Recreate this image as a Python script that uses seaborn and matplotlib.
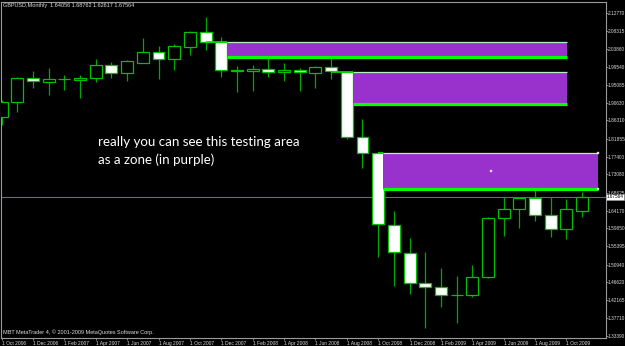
import numpy as np
import pandas as pd
import matplotlib
matplotlib.use("Agg")
import matplotlib.pyplot as plt
import seaborn as sns

# ---------------- data ----------------
months = ["Oct 2006", "Nov 2006", "Dec 2006", "Jan 2007", "Feb 2007", "Mar 2007",
          "Apr 2007", "May 2007", "Jun 2007", "Jul 2007", "Aug 2007", "Sep 2007",
          "Oct 2007", "Nov 2007", "Dec 2007", "Jan 2008", "Feb 2008", "Mar 2008",
          "Apr 2008", "May 2008", "Jun 2008", "Jul 2008", "Aug 2008", "Sep 2008",
          "Oct 2008", "Nov 2008", "Dec 2008", "Jan 2009", "Feb 2009", "Mar 2009",
          "Apr 2009", "May 2009", "Jun 2009", "Jul 2009", "Aug 2009", "Sep 2009",
          "Oct 2009", "Nov 2009"]
opens = [1.8724, 1.9077, 1.9666, 1.9568, 1.9640, 1.9625, 1.9681, 1.9993, 1.9789, 2.0049,
         2.0305, 2.0148, 2.0442, 2.0796, 2.0550, 1.9838, 1.9853, 1.9887, 1.9828, 1.9870,
         1.9789, 1.9937, 1.9828, 1.8218, 1.7825, 1.6065, 1.5370, 1.4633, 1.4550, 1.4335,
         1.4339, 1.4781, 1.6229, 1.6450, 1.6720, 1.6303, 1.5959, 1.64056]
highs = [1.9134, 1.9706, 1.9853, 1.9912, 1.9747, 1.9747, 2.0140, 2.0074, 2.0116, 2.0663,
         2.0459, 2.0501, 2.0828, 2.1179, 2.0673, 1.9968, 1.9993, 2.0403, 2.0049, 1.9912,
         1.9968, 2.0182, 1.9845, 1.8675, 1.7864, 1.6408, 1.5738, 1.5394, 1.5009, 1.4813,
         1.5083, 1.6254, 1.6759, 1.6759, 1.7047, 1.6759, 1.6696, 1.68762]
lows = [1.8520, 1.8832, 1.9421, 1.9256, 1.9379, 1.9175, 1.9583, 1.9666, 1.9608, 2.0035,
        1.9642, 1.9870, 2.0238, 2.0354, 1.9706, 1.9337, 1.9362, 1.9706, 1.9600, 1.9362,
        1.9421, 1.9642, 1.8176, 1.7457, 1.5272, 1.4574, 1.4371, 1.3528, 1.4059, 1.3666,
        1.4290, 1.4771, 1.5802, 1.5998, 1.6170, 1.5777, 1.5721, 1.62617]
closes = [1.9077, 1.9666, 1.9608, 1.9649, 1.9645, 1.9681, 1.9993, 1.9797, 2.0084, 2.0305,
          2.0148, 2.0459, 2.0796, 2.0565, 1.9870, 1.9863, 1.9887, 1.9828, 1.9870, 1.9828,
          1.9937, 1.9838, 1.8218, 1.7840, 1.6082, 1.5394, 1.4633, 1.4535, 1.4339, 1.4340,
          1.4795, 1.6229, 1.6457, 1.6720, 1.6303, 1.5959, 1.6457, 1.67564]

# purple zones (bar-index start/end, top price, bottom price) and origin candle
zone_anchor = [13, 21, 24]
zone_start = [14.37, 22.38, 24.33]
zone_end = [36.02, 36.02, 37.99]
zone_top = [2.0570, 1.9833, 1.7840]
zone_bottom = [2.0197, 1.9028, 1.6949]

price_ticks = [2.12770, 2.08315, 2.03860, 1.99540, 1.95085, 1.90630, 1.86310, 1.81855,
               1.77400, 1.73080, 1.68625, 1.64170, 1.59850, 1.55395, 1.50940, 1.46620,
               1.42165, 1.37710, 1.33390]
bid = 1.67564
title = "GBPUSD,Monthly  1.64056 1.68762 1.62617 1.67564"
footer = "MBT MetaTrader 4, \u00a9 2001-2009 MetaQuotes Software Corp."
note_lines = ["really you can see this testing area", "as a zone (in purple)"]

# ---------------- style ----------------
sns.set_theme(style="dark", rc={"axes.facecolor": "black", "figure.facecolor": "black",
                                "axes.edgecolor": "#9a9a9a", "axes.grid": False})
plt.rcParams["font.family"] = ["Liberation Sans", "DejaVu Sans"]

df = pd.DataFrame({"month": months, "open": opens, "high": highs,
                   "low": lows, "close": closes})
df["x"] = np.arange(len(df))
df["bull"] = df["close"] >= df["open"]

W, H = 625, 346
fig = plt.figure(figsize=(W / 100, H / 100), dpi=100)
ax = fig.add_axes([1 / W, 8 / H, 605 / W, 336 / H])
ax.set_facecolor("black")

wick_col = "#00a800"
ax.vlines(df["x"], df["low"], df["high"], colors=wick_col, lw=0.9, zorder=2)
body_h = np.maximum((df["close"] - df["open"]).abs(), 0.0006)
body_b = np.minimum(df["open"], df["close"])
fills = np.where(df["bull"], "black", "white")
ax.bar(df["x"], body_h, bottom=body_b, width=0.76, color=fills,
       edgecolor="#00c000", linewidth=0.9, zorder=3)

purple = "#9932cc"
for a, s, e, t, b in zip(zone_anchor, zone_start, zone_end, zone_top, zone_bottom):
    ax.fill_between([s, e], [b, b], [t, t], color=purple, lw=0, zorder=4)
    ax.hlines(t, s, e, color="#b4f0c4", lw=0.9, zorder=5)
    ax.hlines(t, a, s, color="#00e000", lw=1.2, zorder=5)
    ax.hlines(b, s, e, color="#00ff00", lw=2.3, zorder=5)

# selection markers on last zone
mk = pd.DataFrame({"x": [zone_end[2], zone_end[2], (zone_start[2] + zone_end[2]) / 2],
                   "y": [zone_top[2], zone_bottom[2], (zone_top[2] + zone_bottom[2]) / 2]})
sns.scatterplot(data=mk, x="x", y="y", marker="s", s=4, color="white",
                edgecolor="#d8b0f0", linewidth=0.3, ax=ax, zorder=6, legend=False)

ax.axhline(bid, color="#6a6a78", lw=0.8, zorder=1)

ax.set_xlim(-0.04, 38.52)
ax.set_ylim(1.3290, 2.1540)
ax.set_xlabel("")
ax.set_ylabel("")

ax.yaxis.tick_right()
ax.set_yticks(price_ticks)
ax.set_yticklabels([f"{v:.5f}" for v in price_ticks])
ax.tick_params(axis="y", which="both", right=True, left=False, length=1.1, width=0.6,
               color="#9a9a9a", labelsize=3.4, labelcolor="#dcdcdc", pad=0.3)

xt = df["x"].iloc[::2]
ax.set_xticks(xt)
ax.set_xticklabels(["1 " + m for m in df["month"].iloc[::2]], ha="left")
ax.tick_params(axis="x", which="both", bottom=True, length=1.5, width=0.6,
               color="#9a9a9a", labelsize=3.5, labelcolor="#dcdcdc", pad=0.8)

for sp in ax.spines.values():
    sp.set_color("#9a9a9a")
    sp.set_linewidth(0.8)

ax.text(1.0015, bid, f"{bid:.5f}", transform=ax.get_yaxis_transform(), ha="left",
        va="center", fontsize=3.3, color="black", zorder=10, clip_on=False,
        bbox=dict(boxstyle="square,pad=0.1", fc="white", ec="#9a9a9a", lw=0.4))

fig.text(3 / W, 1 - 6 / H, title, fontsize=4.0, color="#dcdcdc", va="center")
fig.text(3 / W, 1 - 332.5 / H, footer, fontsize=4.0, color="#dcdcdc", va="center")
fig.text(98 / W, 1 - 141.7 / H, note_lines[0], fontsize=9.6, color="white",
         va="center", family=["Lato", "DejaVu Sans"])
fig.text(98 / W, 1 - 159.3 / H, note_lines[1], fontsize=9.6, color="white",
         va="center", family=["Lato", "DejaVu Sans"])

fig.savefig("out.png", dpi=100, facecolor="black")
